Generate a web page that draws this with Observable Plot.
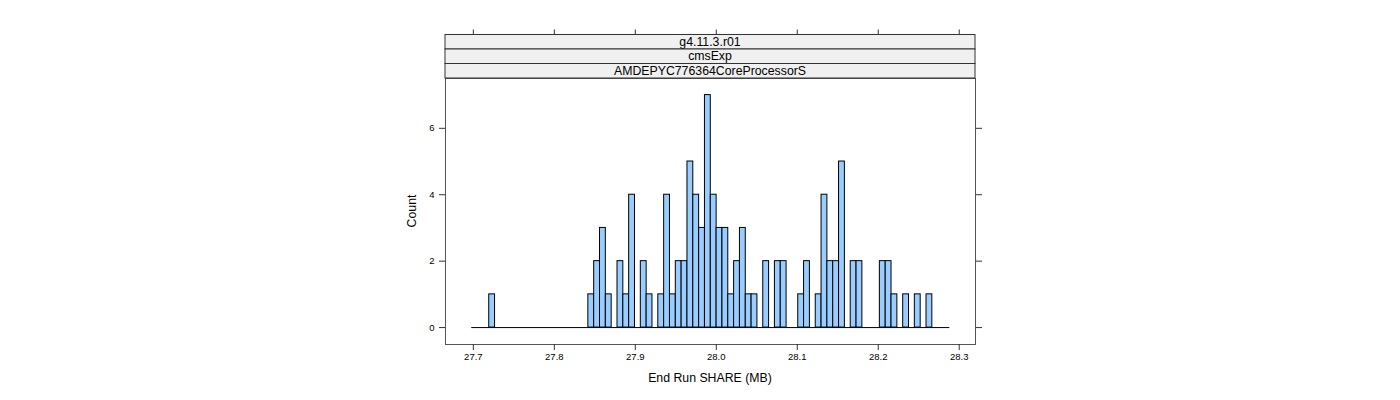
<!DOCTYPE html>
<html>
<head>
<meta charset="utf-8">
<script src="https://cdn.jsdelivr.net/npm/d3@7"></script>
<script src="https://cdn.jsdelivr.net/npm/@observablehq/plot@0.6"></script>
<style>
  html, body { margin: 0; padding: 0; background: #fff; }
  #chart { width: 1400px; height: 400px; }
  svg { font-family: "Liberation Sans", Arial, sans-serif; }
</style>
</head>
<body>
<div id="chart"></div>
<script>
// Histogram bins (End Run SHARE, MB)
const binStart = 27.698;
const binWidth = 0.0072;
const binCounts = [
  0,0,0,1,0,0,0,0,0,0,
  0,0,0,0,0,0,0,0,0,0,
  1,2,3,1,0,2,1,4,0,2,
  1,0,1,4,1,2,2,5,4,3,
  7,4,3,3,1,2,3,1,1,0,
  2,0,2,2,0,0,1,2,0,1,
  4,2,2,5,0,2,2,0,0,0,
  2,2,1,0,1,0,1,0,1,0,
  0,0
];
const stripLabels = ["g4.11.3.r01", "cmsExp", "AMDEPYC776364CoreProcessorS"];
const xTicks = [27.7, 27.8, 27.9, 28.0, 28.1, 28.2, 28.3];
const yTicks = [0, 2, 4, 6];
const xLabel = "End Run SHARE (MB)";
const yLabel = "Count";

const bins = binCounts.map((c, i) => ({
  x1: binStart + i * binWidth,
  x2: binStart + (i + 1) * binWidth,
  count: c
}));
const binsEnd = binStart + binCounts.length * binWidth;

const stripH = 14.5;
const fg = "#000";
const tickFont = 9.5;

const svg = Plot.plot({
  width: 1400,
  height: 400,
  marginLeft: 445,
  marginRight: 425,
  marginTop: 78,
  marginBottom: 56,
  style: { fontFamily: "Liberation Sans, Arial, sans-serif", background: "#fff", overflow: "visible", color: "#000" },
  x: { domain: [27.6656, 28.3201] },
  y: { domain: [-0.51, 7.5] },
  marks: [
    Plot.ruleY([0], { x1: binStart, x2: binsEnd, stroke: "#000", strokeWidth: 1 }),
    Plot.rectY(bins.filter(d => d.count > 0), {
      x1: "x1", x2: "x2", y1: 0, y2: "count",
      fill: "#99CCFF", stroke: "#000", strokeWidth: 1, insetLeft: 0, insetRight: 0
    }),
    Plot.frame({ stroke: "#555", strokeWidth: 1 }),
    Plot.axisX({
      anchor: "bottom", ticks: xTicks, tickSize: 6, tickPadding: 3,
      tickFormat: d => d.toFixed(1), fontSize: tickFont, label: null, stroke: "#333", fill: fg
    }),
    Plot.axisX({
      anchor: "top", ticks: xTicks, tickSize: 6, tickFormat: null, text: null,
      dy: -(3 * stripH), label: null, stroke: "#333"
    }),
    Plot.axisY({
      anchor: "left", ticks: yTicks, tickSize: 6, tickPadding: 5,
      tickFormat: d => String(d), fontSize: tickFont, label: null, stroke: "#333", fill: fg
    }),
    Plot.axisY({
      anchor: "right", ticks: yTicks, tickSize: 6, tickFormat: null, text: null,
      label: null, stroke: "#333"
    })
  ]
});

// Strips above the panel, positioned from the plot's own scales
const xs = svg.scale("x");
const ys = svg.scale("y");
const [pLeft, pRight] = xs.range;
const pTop = Math.min(...ys.range);
const pBottom = Math.max(...ys.range);
const root = d3.select(svg);
const stripG = root.append("g");
stripLabels.forEach((lab, i) => {
  const y0 = pTop - (stripLabels.length - i) * stripH;
  stripG.append("rect")
    .attr("x", pLeft).attr("y", y0)
    .attr("width", pRight - pLeft).attr("height", stripH)
    .attr("fill", "#F0F0F0").attr("stroke", "#333").attr("stroke-width", 1);
  stripG.append("text")
    .attr("x", (pLeft + pRight) / 2).attr("y", y0 + stripH / 2)
    .attr("text-anchor", "middle").attr("dominant-baseline", "central")
    .attr("font-size", 12.3).attr("fill", fg)
    .text(lab);
});
// Axis titles
root.append("text")
  .attr("x", (pLeft + pRight) / 2).attr("y", pBottom + 34)
  .attr("text-anchor", "middle").attr("dominant-baseline", "central")
  .attr("font-size", 12.3).attr("fill", fg).text(xLabel);
root.append("text")
  .attr("transform", `translate(${pLeft - 33},${(pTop + pBottom) / 2}) rotate(-90)`)
  .attr("text-anchor", "middle").attr("dominant-baseline", "central")
  .attr("font-size", 12.3).attr("fill", fg).text(yLabel);

document.getElementById("chart").appendChild(svg);
</script>
</body>
</html>
